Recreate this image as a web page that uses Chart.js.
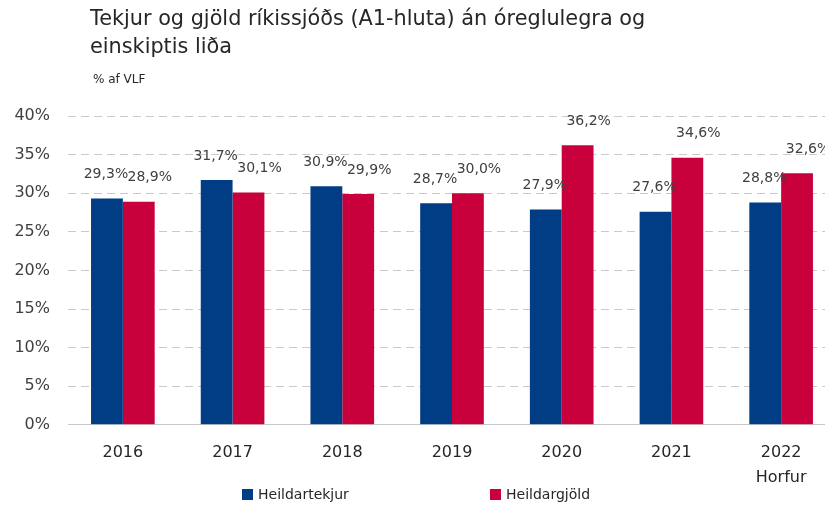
<!DOCTYPE html>
<html>
<head>
<meta charset="utf-8">
<script src="https://cdn.jsdelivr.net/npm/chart.js@4"></script>
<style>
  body { margin: 0; background: #fff; overflow: hidden; }
  #wrap { position: relative; width: 825px; height: 509px; overflow: hidden; }
  #c { position: absolute; left: 0; top: 0; }
  #title { position: absolute; left: 90px; top: 4px; font: 20.8px "DejaVu Sans", sans-serif; color: #262626; line-height: 28px; }
  #sub { position: absolute; left: 93px; top: 72px; font: 12px "DejaVu Sans", sans-serif; color: #262626; }
  .leg { position: absolute; top: 485px; font: 14px "DejaVu Sans", sans-serif; color: #262626; line-height: 18px; }
  .leg i { display: inline-block; width: 11px; height: 11px; margin-right: 5px; vertical-align: -1px; }
</style>
</head>
<body>
<div id="wrap">
  <canvas id="c" width="845" height="509"></canvas>
  <div id="title">Tekjur og gjöld ríkissjóðs (A1-hluta) án óreglulegra og<br>einskiptis liða</div>
  <div id="sub">% af VLF</div>
  <div class="leg" style="left:242px"><i style="background:#003D85"></i>Heildartekjur</div>
  <div class="leg" style="left:490px"><i style="background:#C8003C"></i>Heildargjöld</div>
</div>
<script>
// categories and values (% of GDP)
const years = [["2016"], ["2017"], ["2018"], ["2019"], ["2020"], ["2021"], ["2022", "Horfur"]];
const revenue = [29.3, 31.7, 30.9, 28.7, 27.9, 27.6, 28.8];
const expenses = [28.9, 30.1, 29.9, 30.0, 36.2, 34.6, 32.6];

// value labels above each bar, comma decimal
const barLabels = {
    id: "barLabels",
    afterDatasetsDraw(chart) {
        const ctx = chart.ctx;
        ctx.save();
        ctx.font = "14px 'DejaVu Sans', sans-serif";
        ctx.fillStyle = "#404040";
        ctx.textAlign = "center";
        ctx.textBaseline = "middle";
        chart.data.datasets.forEach((ds, i) => {
            const meta = chart.getDatasetMeta(i);
            const shift = i === 0 ? -1 : 11;
            meta.data.forEach((bar, j) => {
                const txt = ds.data[j].toFixed(1).replace(".", ",") + "%";
                ctx.fillText(txt, bar.x + shift, bar.y - 24);
            });
        });
        ctx.restore();
    }
};

new Chart(document.getElementById("c"), {
    type: "bar",
    data: {
        labels: years,
        datasets: [
            { label: "Heildartekjur", data: revenue, backgroundColor: "#003D85" },
            { label: "Heildargjöld", data: expenses, backgroundColor: "#C8003C" }
        ]
    },
    options: {
        responsive: false,
        animation: false,
        layout: { padding: { top: 116, right: 9, left: 0, bottom: 11 } },
        datasets: { bar: { categoryPercentage: 0.58, barPercentage: 1 } },
        scales: {
            x: {
                grid: { display: false },
                border: { color: "#c8c8c8" },
                ticks: {
                    color: "#262626", padding: 7,
                    font: { size: 16, lineHeight: 1.6, family: "'DejaVu Sans', sans-serif" }
                }
            },
            y: {
                min: 0, max: 40,
                afterFit(scale) { scale.width = 68; },
                ticks: {
                    stepSize: 5,
                    color: "#404040",
                    padding: 18,
                    font: { size: 16, family: "'DejaVu Sans', sans-serif" },
                    callback: v => v + "%"
                },
                border: { display: false, dash: [8, 5] },
                grid: { color: "#cacaca", drawTicks: false }
            }
        },
        plugins: {
            tooltip: { enabled: false },
            legend: { display: false }
        }
    },
    plugins: [barLabels]
});
</script>
</body>
</html>
